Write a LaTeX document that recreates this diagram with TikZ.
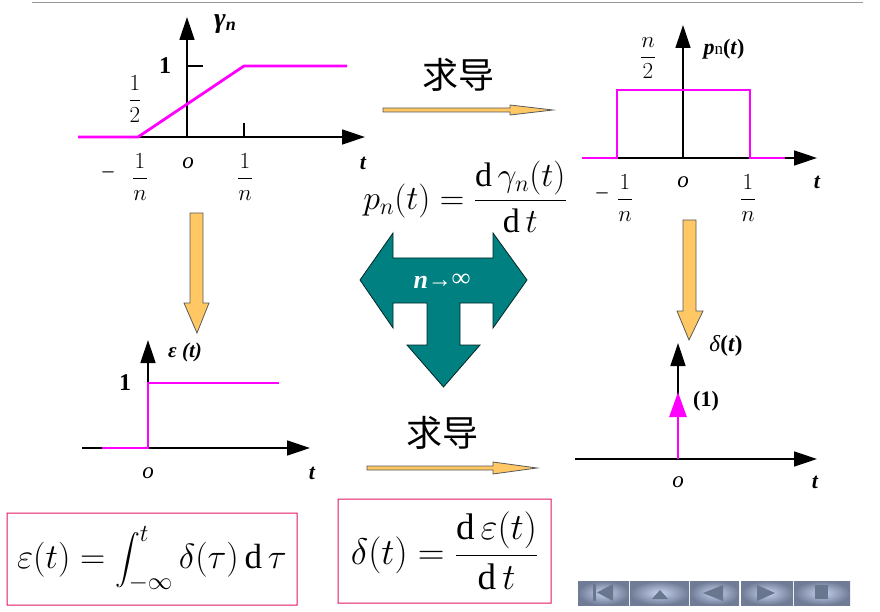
\RequirePackage{fix-cm}
\documentclass[tikz,border=0pt]{standalone}
\usepackage{amsmath}
\usepackage{fontspec}
\setmainfont{Liberation Serif}
\newfontfamily\cjk{Noto Sans CJK SC}
\usetikzlibrary{arrows.meta}
\definecolor{sigmag}{RGB}{255,0,255}
\definecolor{gold}{RGB}{255,200,100}
\definecolor{tealfill}{RGB}{0,128,128}
\definecolor{boxred}{RGB}{228,20,98}
\definecolor{btnedge}{RGB}{112,124,150}
\definecolor{btnlight}{RGB}{200,212,240}
\definecolor{btnicon}{RGB}{104,118,142}
\tikzset{
  axis/.style = {line width=1.4pt, -{Triangle[length=23pt,width=15pt]}},
  tick/.style = {line width=1.2pt},
  sig/.style = {sigmag, line width=2.8pt, line join=miter},
  lbl/.style = {inner sep=0pt, font=\fontsize{22}{24}\selectfont},
  tlbl/.style = {lbl, font=\fontsize{22}{24}\selectfont\bfseries\itshape},
  frc/.style = {lbl, font=\fontsize{23}{25}\selectfont},
  goldarrow/.style = {fill=gold, draw=black!65, line width=0.8pt, line join=miter},
  bigarrow/.style = {fill=tealfill, draw=black!70!tealfill, line width=0.8pt},
  cjklbl/.style = {inner sep=0pt, font=\cjk\fontsize{36}{38}\selectfont},
  eqframe/.style = {fill=boxred, even odd rule},
  btn/.style = {inner color=btnlight, outer color=btnedge},
}
\begin{document}
\begin{tikzpicture}[x=1pt,y=-1pt]
\useasboundingbox (0,0) rectangle (880,612);
\draw[black!40, line width=1pt] (32,3) -- (863,3);
\fill[eqframe] (6.5,512.5) rectangle (297.5,605.5) (7.5,513.5) rectangle (296.5,604.5);
\fill[eqframe] (337.5,498.5) rectangle (551.5,603.5) (338.5,499.5) rectangle (550.5,602.5);
% gamma_n
\coordinate (O1) at (187,137);
\draw[axis] (78,137) -- (365,137);
\draw[axis] (O1) -- (187,17);
\draw[tick] (187,66) -- (203,66);
\draw[tick] (244,137) -- (244,123);
\draw[sig] (78,137) -- (138,137) -- (244,66) -- (347,66);
\node[tlbl, font=\fontsize{28}{30}\selectfont\bfseries\itshape] (g) at (225,24) {γ\raisebox{-3pt}{\fontsize{18}{18}\selectfont n}};
\node[lbl, font=\fontsize{24}{26}\selectfont\bfseries] (one1) at (165,66) {1};
\node[frc] (half) at (135,99) {$\dfrac{1}{2}$};
\node[lbl] (m1) at (108,175) {–};
\node[frc] (ln1) at (140,177) {$\dfrac{1}{n}$};
\node[lbl, font=\fontsize{23}{25}\selectfont\itshape] (o1) at (188,163) {o};
\node[frc] (rn1) at (245,177) {$\dfrac{1}{n}$};
\node[tlbl] (t1) at (363,163) {t};
% p_n
\coordinate (O2) at (683,158);
\draw[axis] (582,158) -- (817,158);
\draw[axis] (O2) -- (683,25);
\draw[sig] (582,158) -- (617,158) -- (617,90) -- (750,90) -- (750,158) -- (785,158);
\node[frc] (n2) at (648,58) {$\dfrac{n}{2}$};
\node[lbl] (p) at (724,49) {\textbf{\textit{p}}{\fontsize{17}{17}\selectfont n}\textbf{(\textit{t})}};
\node[lbl] (m2) at (602,196) {–};
\node[frc] (ln2) at (625,198) {$\dfrac{1}{n}$};
\node[lbl, font=\fontsize{23}{25}\selectfont\itshape] (o2) at (683,182) {o};
\node[frc] (rn2) at (748,198) {$\dfrac{1}{n}$};
\node[tlbl] (t2) at (817,182) {t};
% epsilon
\coordinate (O3) at (148,448);
\draw[axis] (82,448) -- (310,448);
\draw[axis] (O3) -- (148,340);
\draw[sig] (102,448) -- (148,448) -- (148,383) -- (279,383);
\node[tlbl, font=\fontsize{21}{23}\selectfont\bfseries\itshape] (e) at (185,352) {ε (t)};
\node[lbl, font=\fontsize{24}{26}\selectfont\bfseries] (one3) at (125,383) {1};
\node[lbl, font=\fontsize{23}{25}\selectfont\itshape] (o3) at (148,473) {o};
\node[tlbl] (t3) at (312,473) {t};
% delta
\coordinate (O4) at (678,459);
\draw[axis] (575,459) -- (817,459);
\draw[axis] (O4) -- (678,343);
\draw[sigmag, line width=2.6pt, -{Triangle[length=25pt,width=17pt]}] (O4) -- (678,392);
\node[lbl, font=\fontsize{23}{25}\selectfont] (d) at (726,346) {\textit{δ}\textbf{(\textit{t})}};
\node[lbl, font=\fontsize{22}{24}\selectfont\bfseries] (w) at (706,401) {(1)};
\node[lbl, font=\fontsize{23}{25}\selectfont\itshape] (o4) at (678,482) {o};
\node[tlbl] (t4) at (815,482) {t};
% gold arrows
\draw[goldarrow] (383,108) -- (510,108) -- (510,105) -- (553,110) -- (510,115) -- (510,112) -- (383,112) -- cycle;
\node[cjklbl] (d1) at (458,75) {求导};
\draw[goldarrow] (367,466) -- (493,466) -- (493,462) -- (537,468) -- (493,474) -- (493,470) -- (367,470) -- cycle;
\node[cjklbl] (d2) at (442,433) {求导};
\draw[goldarrow] (190,213) -- (203,213) -- (203,303) -- (209,303) -- (197,333) -- (184,303) -- (190,303) -- cycle;
\draw[goldarrow] (683,220) -- (696,220) -- (696,311) -- (703,311) -- (689,340) -- (677,311) -- (683,311) -- cycle;
% limit
\draw[bigarrow] (360,280) -- (393,233) -- (393,258) -- (493,258) -- (493,233) -- (527,280)
  -- (493,328) -- (493,303) -- (460,303) -- (460,345) -- (480,345) -- (443.5,387)
  -- (407,345) -- (427,345) -- (427,303) -- (393,303) -- (393,328) -- cycle;
\node[lbl, white, font=\fontsize{26}{28}\selectfont\bfseries\itshape] (lim) at (442,281)
  {n\raisebox{1pt}{\fontsize{24}{24}\selectfont\upshape →}\raisebox{2pt}{\fontsize{26}{26}\selectfont\upshape ∞}};
% formulas
\node[lbl, font=\fontsize{34}{36}\selectfont] (pn) at (465,197)
  {$p_n(t)=\dfrac{\mathrm{d}\,\gamma_n(t)\rule[-7pt]{0pt}{7pt}}{\rule{0pt}{28pt}\mathrm{d}\,t}$};
\node[lbl, font=\fontsize{35}{37}\selectfont] (f1) at (152,559)
  {$\varepsilon(t)=\displaystyle\int_{-\infty}^{t}\delta(\tau)\,\mathrm{d}\,\tau$};
\node[lbl, font=\fontsize{37}{39}\selectfont] (f2) at (444.5,551)
  {$\delta(t)=\dfrac{\mathrm{d}\,\varepsilon(t)}{\mathrm{d}\,t}$};
% buttons
\foreach \a/\b in {578/629, 630/689, 690/739, 741/793, 794/850}
  \shade[btn] (\a,581) rectangle (\b,605);
\fill[btnicon] (593,584) rectangle (596,601);
\fill[btnicon] (597,592.5) -- (613,584) -- (613,601) -- cycle;
\fill[btnicon] (660,590) -- (668,599) -- (652,599) -- cycle;
\fill[btnicon] (703,593) -- (723,585) -- (723,601) -- cycle;
\fill[btnicon] (775,593) -- (757,585) -- (757,601) -- cycle;
\fill[btnicon] (815,585) rectangle (828,599);
\end{tikzpicture}
\end{document}
